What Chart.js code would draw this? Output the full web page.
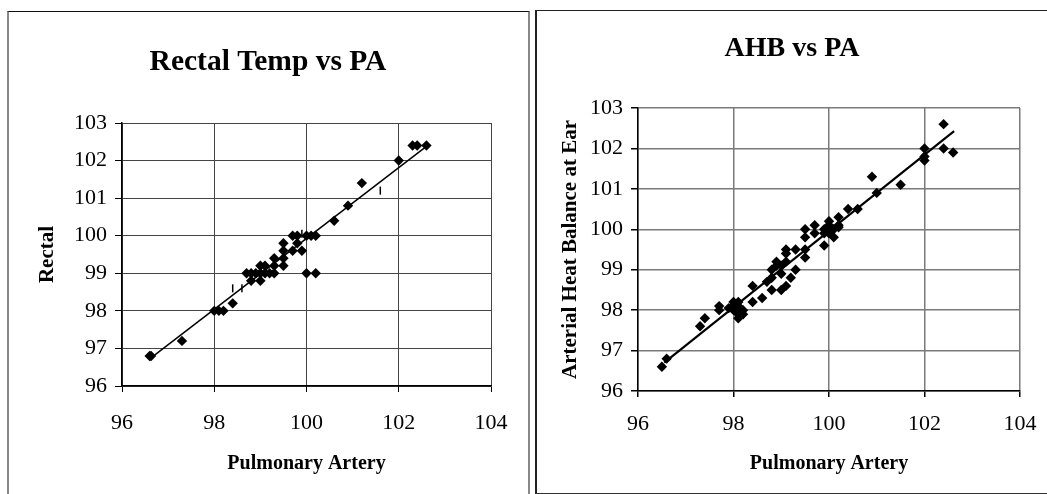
<!DOCTYPE html>
<html>
<head>
<meta charset="utf-8">
<script src="https://cdn.jsdelivr.net/npm/chart.js@4"></script>
<style>
  body { margin: 0; background: #fff; }
  .panel { position: absolute; box-sizing: border-box; }
  #panelLeft { left: 7px; top: 11px; width: 523px; height: 500px;
    border-top: 1px solid #111; border-left: 2px solid #888; border-right: 2px solid #888; }
  #panelRight { left: 535px; top: 10px; width: 520px; height: 484px;
    border-top: 1px solid #222; border-left: 2px solid #222; border-bottom: 1px solid #333; }
  canvas { position: absolute; }
  #rectal { left: 8px; top: 12px; }
  #ahb { left: 537px; top: 12px; }
</style>
</head>
<body>
<div class="panel" id="panelLeft"></div>
<div class="panel" id="panelRight"></div>
<canvas id="rectal" width="520" height="482"></canvas>
<canvas id="ahb" width="510" height="480"></canvas>
<script>
// Rectal Temp vs PA
const rectalPA = [96.6, 96.63, 97.3, 98.0, 98.1, 98.2, 98.4, 98.7, 98.8, 98.9, 98.8, 99.0,
  99.0, 99.1, 99.2, 99.3, 99.0, 99.1, 99.3, 99.3, 99.5, 99.5, 99.5, 99.5, 99.7, 99.8,
  99.7, 99.8, 99.9, 100.0, 100.1, 100.2, 100.0, 100.2, 100.6, 100.9, 101.2, 102.0,
  102.3, 102.4, 102.6];
const rectal = [96.8, 96.8, 97.2, 98.0, 98.0, 98.0, 98.2, 99.0, 99.0, 99.0, 98.8, 98.8,
  99.0, 99.0, 99.0, 99.0, 99.2, 99.2, 99.2, 99.4, 99.2, 99.4, 99.6, 99.8, 99.6, 99.8,
  100.0, 100.0, 99.6, 100.0, 100.0, 100.0, 99.0, 99.0, 100.4, 100.8, 101.4, 102.0,
  102.4, 102.4, 102.4];
// small dash marks
const rectalDashPA = [98.4, 98.6, 99.9, 101.6];
const rectalDash = [98.6, 98.6, 100.05, 101.2];
const rectalTrendPA = [96.6, 102.6];
const rectalTrend = [96.72, 102.38];

// AHB vs PA
const ahbPA = [96.5, 96.6, 97.3, 97.4, 97.7, 97.7, 98.0, 98.0, 98.1, 98.1, 98.1, 98.2,
  98.2, 98.0, 98.1, 97.9, 98.4, 98.4, 98.6, 98.8, 98.8, 98.8, 98.9, 98.9, 99.0, 99.0,
  99.1, 99.1, 99.1, 99.2, 99.3, 99.3, 99.1, 99.0, 98.7, 99.5, 99.5, 99.5, 99.5, 99.7,
  99.7, 99.9, 100.0, 100.0, 100.1, 100.1, 100.2, 100.2, 100.0, 99.9, 99.9, 100.2,
  100.4, 100.6, 100.9, 101.0, 101.5, 102.0, 102.0, 102.0, 102.4, 102.4, 102.6];
const ahb = [96.6, 96.8, 97.6, 97.8, 98.1, 98.0, 98.1, 98.2, 98.2, 97.8, 97.9, 97.9,
  98.0, 98.0, 98.1, 98.05, 98.6, 98.2, 98.3, 98.5, 98.8, 99.0, 99.2, 99.1, 99.1, 98.5,
  98.6, 99.5, 99.4, 98.8, 99.0, 99.5, 99.2, 98.9, 98.7, 100.0, 99.8, 99.5, 99.3, 99.9,
  100.1, 99.6, 100.1, 100.2, 100.0, 99.8, 100.1, 100.3, 99.9, 99.9, 100.0, 100.05,
  100.5, 100.5, 101.3, 100.9, 101.1, 102.0, 101.8, 101.7, 102.6, 102.0, 101.9];
const ahbTrendPA = [96.55, 102.62];
const ahbTrend = [96.7, 102.43];

const serif = 'Liberation Serif';

function toPoints(xs, ys) {
  return xs.map((x, i) => ({ x: x, y: ys[i] }));
}

function buildChart(id, cfg) {
  return new Chart(document.getElementById(id), {
    type: 'scatter',
    data: {
      datasets: [
        {
          data: toPoints(cfg.xs, cfg.ys),
          pointStyle: 'rectRot',
          pointRadius: 5.2,
          backgroundColor: '#000',
          borderColor: '#000',
          borderWidth: 0
        },
        {
          type: 'line',
          data: toPoints(cfg.trendX, cfg.trendY),
          borderColor: '#000',
          borderWidth: cfg.trendWidth,
          pointRadius: 0,
          fill: false
        },
        {
          data: toPoints(cfg.dashX || [], cfg.dashY || []),
          pointStyle: 'line',
          rotation: 90,
          pointRadius: 4,
          borderColor: '#000',
          borderWidth: 1.5
        }
      ]
    },
    options: {
      responsive: false,
      animation: false,
      devicePixelRatio: 1,
      layout: { padding: 0 },
      plugins: {
        legend: { display: false },
        tooltip: { enabled: false },
        title: {
          display: true,
          text: cfg.title,
          color: '#000',
          font: { family: serif, size: cfg.titleSize, weight: 'bold' },
          padding: { top: cfg.titleTop, bottom: cfg.titleBottom }
        }
      },
      scales: {
        x: {
          type: 'linear',
          min: 96, max: 104,
          ticks: { stepSize: 2, color: '#000', padding: cfg.xTickPad,
            font: { family: serif, size: 22 } },
          grid: { color: cfg.gridColor, lineWidth: cfg.gridWidth, tickLength: 6, tickColor: '#000' },
          border: { color: '#000', width: 1.5 },
          title: { display: true, text: 'Pulmonary Artery', color: '#000',
            font: { family: serif, size: 20, weight: 'bold' },
            padding: { top: 0, bottom: cfg.xTitleBottom } },
          afterFit: s => { s.height = cfg.xHeight; s.paddingRight = cfg.rightPad; }
        },
        y: {
          type: 'linear',
          min: 96, max: 103,
          ticks: { stepSize: 1, color: '#000', padding: 8,
            font: { family: serif, size: 22 } },
          grid: { color: cfg.gridColor, lineWidth: cfg.gridWidth, tickLength: 7, tickColor: '#000' },
          border: { color: '#000', width: 1.5 },
          title: { display: true, text: cfg.yTitle, color: '#000',
            font: { family: serif, size: 21, weight: 'bold' },
            padding: { top: cfg.yTitleTop, bottom: 0 } },
          afterFit: s => { s.width = cfg.yWidth; }
        }
      }
    }
  });
}

buildChart('rectal', {
  title: 'Rectal Temp vs PA',
  titleSize: 29.5,
  yTitle: 'Rectal',
  xs: rectalPA, ys: rectal,
  trendX: rectalTrendPA, trendY: rectalTrend, trendWidth: 1.5,
  dashX: rectalDashPA, dashY: rectalDash,
  gridColor: '#444', gridWidth: 1,
  titleTop: 33, titleBottom: 42.6,
  yWidth: 114, yTitleTop: 27,
  xHeight: 108, xTickPad: 18, xTitleBottom: 18,
  rightPad: 37
});

buildChart('ahb', {
  title: 'AHB vs PA',
  titleSize: 28,
  yTitle: 'Arterial Heat Balance at Ear',
  xs: ahbPA, ys: ahb,
  trendX: ahbTrendPA, trendY: ahbTrend, trendWidth: 2.2,
  gridColor: '#7a7a7a', gridWidth: 1.5,
  titleTop: 20, titleBottom: 42.4,
  yWidth: 101, yTitleTop: 21,
  xHeight: 101, xTickPad: 14, xTitleBottom: 16,
  rightPad: 27
});
</script>
</body>
</html>
